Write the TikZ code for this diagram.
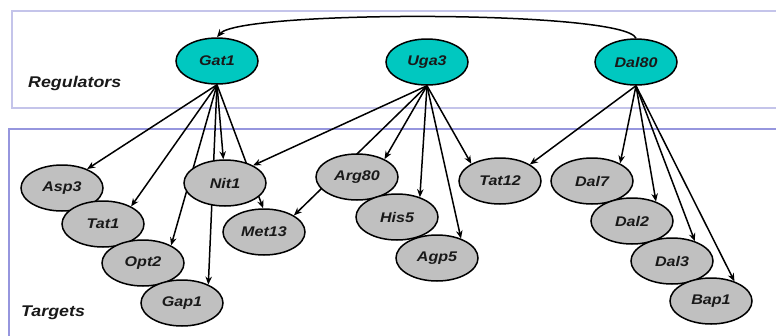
\documentclass[tikz,border=0pt]{standalone}
\usepackage{fontspec}
\newfontfamily\labfont[FakeStretch=1.15]{Liberation Sans}
\usetikzlibrary{shapes.geometric,arrows.meta}
\definecolor{regfill}{RGB}{0,200,192}
\definecolor{tgtfill}{RGB}{192,192,192}
\definecolor{regline}{RGB}{196,196,234}
\definecolor{tgtline}{RGB}{150,150,222}
\definecolor{txt}{RGB}{25,25,25}
\pgfdeclarelayer{bg}
\pgfdeclarelayer{edgelayer}
\pgfsetlayers{bg,edgelayer,main}
\tikzset{
  gene/.style={ellipse,draw=black,line width=1.5pt,minimum width=82pt,minimum height=46pt,inner sep=0pt,text=txt,
    font=\labfont\bfseries\itshape\fontsize{14}{14}\selectfont},
  reg/.style={gene,fill=regfill},
  tgt/.style={gene,fill=tgtfill},
  edge/.style={line width=1.5pt,-{Stealth[length=8pt,width=6.5pt]}},
  boxline/.style={line width=1.8pt},
  grouplabel/.style={anchor=base west,inner sep=0pt,text=txt,font=\labfont\bfseries\itshape\fontsize{15.5}{15.5}\selectfont}
}
\begin{document}
\begin{tikzpicture}[x=1pt,y=-1pt]
\clip (0,0) rectangle (776,335);
% regulators
\node[reg] (Gat1) at (217,61) {Gat1};
\node[reg] (Uga3) at (427,62) {Uga3};
\node[reg] (Dal80) at (636,62) {Dal80};
% targets
\node[tgt] (Asp3) at (62,188) {Asp3};
\node[tgt] (Tat1) at (103,224) {Tat1};
\node[tgt] (Opt2) at (143,263) {Opt2};
\node[tgt] (Gap1) at (182,303) {Gap1};
\node[tgt] (Nit1) at (225,183) {Nit1};
\node[tgt] (Met13) at (264,232) {Met13};
\node[tgt] (Arg80) at (357,177) {Arg80};
\node[tgt] (His5) at (397,217) {His5};
\node[tgt] (Agp5) at (437,258) {Agp5};
\node[tgt] (Tat12) at (500,181) {Tat12};
\node[tgt] (Dal7) at (592,181) {Dal7};
\node[tgt] (Dal2) at (632,221) {Dal2};
\node[tgt] (Dal3) at (672,261) {Dal3};
\node[tgt] (Bap1) at (711,301) {Bap1};
\begin{pgfonlayer}{bg}
  \fill[white] (0,0) rectangle (776,335);
  \draw[boxline,regline] (790,11) -- (12,11) -- (12,108) -- (790,108);
  \draw[boxline,tgtline] (790,129) -- (9,129) -- (9,345);
  \node[grouplabel] (reglab) at (28,87) {Regulators};
  \node[grouplabel] (tgtlab) at (21,316) {Targets};
\end{pgfonlayer}
\begin{pgfonlayer}{edgelayer}
  \draw[edge] (Gat1.south) -- (Asp3.37);
  \draw[edge] (Gat1.south) -- (Tat1.32);
  \draw[edge] (Gat1.south) -- (Opt2.32);
  \draw[edge] (Gat1.south) -- (Gap1.35);
  \draw[edge] (Gat1.south) -- (Nit1.94);
  \draw[edge] (Gat1.south) -- (Met13.92);
  \draw[edge] (Uga3.south) -- (Nit1.32);
  \draw[edge] (Uga3.south) -- (Met13.29);
  \draw[edge] (Uga3.south) -- (Arg80.33);
  \draw[edge] (Uga3.south) -- (His5.41);
  \draw[edge] (Uga3.south) -- (Agp5.39);
  \draw[edge] (Uga3.south) -- (Tat12.149);
  \draw[edge] (Dal80.south) -- (Tat12.29);
  \draw[edge] (Dal80.south) -- (Dal7.32);
  \draw[edge] (Dal80.south) -- (Dal2.39);
  \draw[edge] (Dal80.south) -- (Dal3.41);
  \draw[edge] (Dal80.south) -- (Bap1.40);
  \draw[edge] (Dal80.north) .. controls (625,10) and (240,10) .. (Gat1.north);
\end{pgfonlayer}
\end{tikzpicture}
\end{document}
